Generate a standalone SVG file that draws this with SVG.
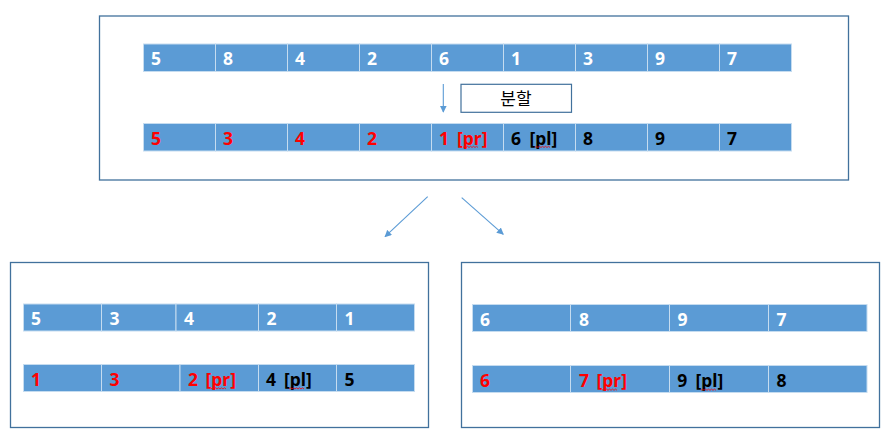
<svg xmlns="http://www.w3.org/2000/svg" width="893" height="443" viewBox="0 0 893 443">
<style>
.frame{fill:#fff;stroke:#41719C;stroke-width:1.3}
.cell{fill:#5B9BD5;stroke:#C5DCF0;stroke-width:1}
.t{font-family:"Noto Sans","Noto Sans CJK KR",sans-serif;font-size:17.5px;font-weight:bold}
.w{fill:#fff}
.r{fill:#FF0000}
.k{fill:#000}
.lbl{font-family:"Noto Sans CJK KR","Noto Sans",sans-serif;font-size:17px;fill:#000}
.sq{fill:none;stroke-width:0.8}
.conn{stroke:#5B9BD5;stroke-width:1.1;fill:none}
</style>
<defs>
<marker id="ah" viewBox="0 0 10 10" refX="9" refY="5" markerWidth="7" markerHeight="7" orient="auto" markerUnits="userSpaceOnUse">
<path d="M0,0 L10,5 L0,10 z" fill="#5B9BD5"/>
</marker>
</defs>

<g id="top-box">
<rect class="frame" x="99.5" y="16" width="749" height="164"/>
<g id="top-row1">
<rect class="cell" x="143.5" y="44" width="72" height="27.5"/>
<rect class="cell" x="215.5" y="44" width="72" height="27.5"/>
<rect class="cell" x="287.5" y="44" width="72" height="27.5"/>
<rect class="cell" x="359.5" y="44" width="72" height="27.5"/>
<rect class="cell" x="431.5" y="44" width="72" height="27.5"/>
<rect class="cell" x="503.5" y="44" width="72" height="27.5"/>
<rect class="cell" x="575.5" y="44" width="72" height="27.5"/>
<rect class="cell" x="647.5" y="44" width="72" height="27.5"/>
<rect class="cell" x="719.5" y="44" width="72" height="27.5"/>
<text class="t w" y="64.5"><tspan x="151">5</tspan><tspan x="223">8</tspan><tspan x="295">4</tspan><tspan x="367">2</tspan><tspan x="439">6</tspan><tspan x="511">1</tspan><tspan x="583">3</tspan><tspan x="655">9</tspan><tspan x="727">7</tspan></text>
</g>
<g id="top-row2">
<rect class="cell" x="143.5" y="123.5" width="72" height="27.5"/>
<rect class="cell" x="215.5" y="123.5" width="72" height="27.5"/>
<rect class="cell" x="287.5" y="123.5" width="72" height="27.5"/>
<rect class="cell" x="359.5" y="123.5" width="72" height="27.5"/>
<rect class="cell" x="431.5" y="123.5" width="72" height="27.5"/>
<rect class="cell" x="503.5" y="123.5" width="72" height="27.5"/>
<rect class="cell" x="575.5" y="123.5" width="72" height="27.5"/>
<rect class="cell" x="647.5" y="123.5" width="72" height="27.5"/>
<rect class="cell" x="719.5" y="123.5" width="72" height="27.5"/>
<text class="t r" y="144.5"><tspan x="151">5</tspan><tspan x="223">3</tspan><tspan x="295">4</tspan><tspan x="367">2</tspan><tspan x="439">1</tspan><tspan x="457">[pr]</tspan></text>
<text class="t k" y="144.5"><tspan x="511">6</tspan><tspan x="529.5">[pl]</tspan><tspan x="583">8</tspan><tspan x="655">9</tspan><tspan x="727">7</tspan></text>
<path class="sq" stroke="#FF0000" d="M463,147.5 l1.5,-1.2 l1.5,1.2 l1.5,-1.2 l1.5,1.2 l1.5,-1.2 l1.5,1.2 l1.5,-1.2 l1.5,1.2 l1.5,-1.2 l1.5,1.2"/>
<path class="sq" stroke="#FF0000" d="M535,147.5 l1.5,-1.2 l1.5,1.2 l1.5,-1.2 l1.5,1.2 l1.5,-1.2 l1.5,1.2 l1.5,-1.2 l1.5,1.2 l1.5,-1.2 l1.5,1.2"/>
</g>
<g id="split-label">
<rect x="461" y="84.3" width="110.5" height="28" fill="#fff" stroke="#41719C" stroke-width="1.2"/>
<text class="lbl" x="516" y="105" text-anchor="middle">분할</text>
</g>
</g>

<g id="left-box">
<rect class="frame" x="10.5" y="262.5" width="418" height="165"/>
<g id="left-row1">
<rect class="cell" x="23.5" y="304" width="78" height="27"/>
<rect class="cell" x="101.5" y="304" width="74.5" height="27"/>
<rect class="cell" x="176" y="304" width="82.5" height="27"/>
<rect class="cell" x="258.5" y="304" width="78" height="27"/>
<rect class="cell" x="336.5" y="304" width="78" height="27"/>
<text class="t w" y="324.5"><tspan x="31">5</tspan><tspan x="109.5">3</tspan><tspan x="184">4</tspan><tspan x="266.5">2</tspan><tspan x="344.5">1</tspan></text>
</g>
<g id="left-row2">
<rect class="cell" x="23.5" y="364.5" width="78" height="27"/>
<rect class="cell" x="101.5" y="364.5" width="78.5" height="27"/>
<rect class="cell" x="180" y="364.5" width="78.5" height="27"/>
<rect class="cell" x="258.5" y="364.5" width="78" height="27"/>
<rect class="cell" x="336.5" y="364.5" width="78" height="27"/>
<text class="t r" y="386"><tspan x="31">1</tspan><tspan x="109.5">3</tspan><tspan x="188">2</tspan><tspan x="205.5">[pr]</tspan></text>
<text class="t k" y="386"><tspan x="266">4</tspan><tspan x="284">[pl]</tspan><tspan x="344.5">5</tspan></text>
<path class="sq" stroke="#FF0000" d="M211,389 l1.5,-1.2 l1.5,1.2 l1.5,-1.2 l1.5,1.2 l1.5,-1.2 l1.5,1.2 l1.5,-1.2 l1.5,1.2 l1.5,-1.2 l1.5,1.2"/>
<path class="sq" stroke="#FF0000" d="M289,389 l1.5,-1.2 l1.5,1.2 l1.5,-1.2 l1.5,1.2 l1.5,-1.2 l1.5,1.2 l1.5,-1.2 l1.5,1.2 l1.5,-1.2 l1.5,1.2"/>
</g>
</g>

<g id="right-box">
<rect class="frame" x="461.5" y="262.5" width="418" height="165"/>
<g id="right-row1">
<rect class="cell" x="472.5" y="304.5" width="98" height="27"/>
<rect class="cell" x="570.5" y="304.5" width="99" height="27"/>
<rect class="cell" x="669.5" y="304.5" width="99" height="27"/>
<rect class="cell" x="768.5" y="304.5" width="98.5" height="27"/>
<text class="t w" y="325.7"><tspan x="480">6</tspan><tspan x="579">8</tspan><tspan x="677.5">9</tspan><tspan x="776.5">7</tspan></text>
</g>
<g id="right-row2">
<rect class="cell" x="472.5" y="365.5" width="98" height="27"/>
<rect class="cell" x="570.5" y="365.5" width="99" height="27"/>
<rect class="cell" x="669.5" y="365.5" width="99" height="27"/>
<rect class="cell" x="768.5" y="365.5" width="98.5" height="27"/>
<text class="t r" y="387.3"><tspan x="480">6</tspan><tspan x="579">7</tspan><tspan x="596.5">[pr]</tspan></text>
<text class="t k" y="387.3"><tspan x="677.3">9</tspan><tspan x="695.5">[pl]</tspan><tspan x="776.5">8</tspan></text>
<path class="sq" stroke="#FF0000" d="M602,390.3 l1.5,-1.2 l1.5,1.2 l1.5,-1.2 l1.5,1.2 l1.5,-1.2 l1.5,1.2 l1.5,-1.2 l1.5,1.2 l1.5,-1.2 l1.5,1.2"/>
<path class="sq" stroke="#FF0000" d="M701,390.3 l1.5,-1.2 l1.5,1.2 l1.5,-1.2 l1.5,1.2 l1.5,-1.2 l1.5,1.2 l1.5,-1.2 l1.5,1.2 l1.5,-1.2 l1.5,1.2"/>
</g>
</g>

<g id="connectors">
<line class="conn" x1="443.3" y1="84" x2="443.3" y2="112" marker-end="url(#ah)"/>
<line class="conn" x1="427.7" y1="196.7" x2="385" y2="236.7" marker-end="url(#ah)"/>
<line class="conn" x1="461.7" y1="197.7" x2="503.3" y2="234.3" marker-end="url(#ah)"/>
</g>
</svg>
